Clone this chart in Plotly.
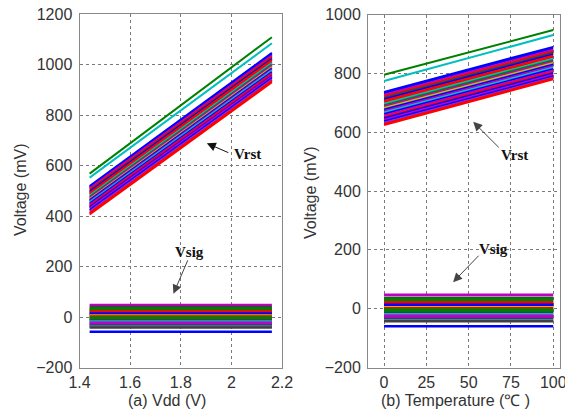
import plotly.graph_objects as go

# ---------------- data ----------------
vdd_x = [1.44, 2.16]
temp_x = [0, 100]

vrst_vdd_start = [568, 552, 519, 514, 510, 505, 500, 496, 491, 486, 481, 476, 472, 467,
                  463, 458, 454, 449, 444, 440, 435, 430, 424, 418, 412, 406]
vrst_vdd_end = [1108, 1084, 1046, 1040, 1035, 1030, 1025, 1022, 1018, 1012, 1006, 1000, 996, 990,
                985, 980, 976, 970, 965, 962, 955, 952, 946, 940, 935, 930]

vrst_temp_start = [795, 774, 737, 732, 727, 722, 717, 712, 707, 702, 697, 692, 687, 682,
                   677, 672, 667, 662, 657, 652, 647, 642, 637, 632, 628, 624]
vrst_temp_end = [947, 930, 890, 885, 880, 875, 870, 865, 860, 855, 850, 845, 840, 835,
                 830, 825, 820, 815, 810, 805, 800, 795, 790, 786, 783, 780]

vrst_colors = ["green", "cyan", "blue", "blue", "magenta", "red", "gray", "blue", "red", "red",
               "cyan", "green", "magenta", "olive", "blue", "magenta", "cyan", "blue", "magenta",
               "red", "blue", "magenta", "blue", "purple", "red", "red"]

vsig_vdd = [48, 40, 34, 30, 26, 22, 18, 14, 10, 6, 2, -2, -6, -10, -14, -18, -22, -26, -30,
            -34, -38, -42, -58]
vsig_temp = [47, 37, 33, 29, 25, 21, 17, 13, 9, 5, 1, -3, -7, -11, -15, -19, -23, -27, -31,
             -35, -39, -43, -60]
vsig_colors = ["magenta", "gray", "green", "green", "green", "red", "red", "blue", "blue",
               "olive", "red", "green", "green", "green", "gray", "cyan", "purple", "magenta",
               "magenta", "gray", "steel", "gray", "blue"]

palette = {
    "blue": "#0000FF", "green": "#008000", "red": "#FF0000", "cyan": "#00BFBF",
    "magenta": "#BF00BF", "olive": "#BFBF00", "gray": "#404040", "purple": "#8A2BE2",
    "steel": "#3A7FD0",
}

vdd_ticks = [1.4, 1.6, 1.8, 2.0, 2.2]
vdd_ticktext = ["1.4", "1.6", "1.8", "2", "2.2"]
temp_ticks = [0, 25, 50, 75, 100]
volt_ticks_a = [-200, 0, 200, 400, 600, 800, 1000, 1200]
volt_ticks_b = [-200, 0, 200, 400, 600, 800, 1000]

# ---------------- figure ----------------
fig = go.Figure()
LW = 2

for s, e, c in zip(vsig_vdd, vsig_vdd, vsig_colors):
    fig.add_trace(go.Scatter(x=vdd_x, y=[s, e], mode="lines", line=dict(color=palette[c], width=2.5),
                             xaxis="x", yaxis="y", showlegend=False, hoverinfo="skip"))
for s, e, c in zip(vrst_vdd_start, vrst_vdd_end, vrst_colors):
    fig.add_trace(go.Scatter(x=vdd_x, y=[s, e], mode="lines", line=dict(color=palette[c], width=LW),
                             xaxis="x", yaxis="y", showlegend=False, hoverinfo="skip"))
for s, c in zip(vsig_temp, vsig_colors):
    fig.add_trace(go.Scatter(x=temp_x, y=[s, s], mode="lines", line=dict(color=palette[c], width=2.5),
                             xaxis="x2", yaxis="y2", showlegend=False, hoverinfo="skip"))
for s, e, c in zip(vrst_temp_start, vrst_temp_end, vrst_colors):
    fig.add_trace(go.Scatter(x=temp_x, y=[s, e], mode="lines", line=dict(color=palette[c], width=LW),
                             xaxis="x2", yaxis="y2", showlegend=False, hoverinfo="skip"))

W, H = 565, 412
tickfont = dict(family="Liberation Sans, Arial", size=16, color="#333333")
axis_common = dict(showgrid=True, gridcolor="#7a7a7a", griddash="dot", gridwidth=1,
                   showline=True, linecolor="#888888", linewidth=1, mirror=True,
                   zeroline=False, ticks="", tickfont=tickfont, automargin=False,
                   ticklabeloverflow="allow")

fig.update_layout(
    width=W, height=H,
    margin=dict(l=0, r=0, t=0, b=0),
    paper_bgcolor="white", plot_bgcolor="white",
    hovermode=False,
    xaxis=dict(domain=[79.5 / W, 282 / W], range=[1.4, 2.2], tickvals=vdd_ticks,
               ticktext=vdd_ticktext, anchor="y", ticklabelstandoff=0, **axis_common),
    yaxis=dict(domain=[1 - 367.5 / H, 1 - 14 / H], range=[-200, 1200], tickvals=volt_ticks_a,
               anchor="x", ticklabelstandoff=3, **axis_common),
    xaxis2=dict(domain=[368 / W, 560 / W], range=[-9.5, 104], tickvals=temp_ticks,
                anchor="y2", ticklabelstandoff=0, **axis_common),
    yaxis2=dict(domain=[1 - 367.5 / H, 1 - 14.5 / H], range=[-200, 1000], tickvals=volt_ticks_b,
                anchor="x2", ticklabelstandoff=3, **axis_common),
)

title_font = dict(family="Liberation Sans, Arial", size=16, color="#333333")
label_font = dict(family="Liberation Serif, Times New Roman", size=15, color="#111111")

annotations = [
    dict(text="(a) Vdd (V)", x=167 / W, y=1 - 400 / H, xref="paper", yref="paper",
         showarrow=False, font=title_font, xanchor="center", yanchor="middle"),
    dict(text="(b) Temperature (℃ )", x=455 / W, y=1 - 400 / H, xref="paper", yref="paper",
         showarrow=False, font=title_font, xanchor="center", yanchor="middle"),
    dict(text="Voltage (mV)", x=20 / W, y=1 - 190 / H, xref="paper", yref="paper",
         showarrow=False, font=title_font, textangle=-90, xanchor="center", yanchor="middle"),
    dict(text="Voltage (mV)", x=310 / W, y=1 - 193 / H, xref="paper", yref="paper",
         showarrow=False, font=title_font, textangle=-90, xanchor="center", yanchor="middle"),
    # labels
    dict(text="<b>Vrst</b>", x=2.062, y=646, xref="x", yref="y", showarrow=False, font=label_font),
    dict(text="<b>Vsig</b>", x=1.833, y=257, xref="x", yref="y", showarrow=False, font=label_font),
    dict(text="<b>Vrst</b>", x=77.3, y=522, xref="x2", yref="y2", showarrow=False, font=label_font),
    dict(text="<b>Vsig</b>", x=64.9, y=204, xref="x2", yref="y2", showarrow=False, font=label_font),
    # arrows
    dict(text="", x=1.903, y=688, xref="x", yref="y", ax=23, ay=10, showarrow=True,
         arrowhead=2, arrowsize=1.8, arrowwidth=1, arrowcolor="#111111"),
    dict(text="", x=1.771, y=92, xref="x", yref="y", ax=15, ay=-35, showarrow=True,
         arrowhead=2, arrowsize=1.8, arrowwidth=1, arrowcolor="#444444"),
    dict(text="", x=52.7, y=635, xref="x2", yref="y2", ax=27, ay=27, showarrow=True,
         arrowhead=2, arrowsize=1.8, arrowwidth=1, arrowcolor="#444444"),
    dict(text="", x=40.8, y=90, xref="x2", yref="y2", ax=27, ay=-28, showarrow=True,
         arrowhead=2, arrowsize=1.8, arrowwidth=1, arrowcolor="#444444"),
]
fig.update_layout(annotations=annotations)

fig.write_html("out.html", config={"displayModeBar": False},
               post_script="document.body.style.margin='0';document.body.style.overflow='hidden';")
